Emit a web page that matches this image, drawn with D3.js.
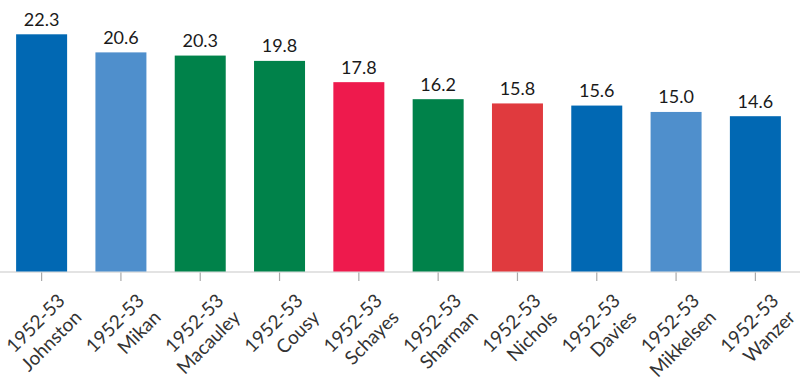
<!DOCTYPE html>
<html>
<head>
<meta charset="utf-8">
<script src="https://cdn.jsdelivr.net/npm/d3@7"></script>
<style>
  html, body { margin: 0; padding: 0; background: #fff; }
  svg { display: block; font-family: Lato, "Open Sans", sans-serif; }
</style>
</head>
<body>
<svg id="chart" width="800" height="380"></svg>
<script>
const seasons = ["1952-53","1952-53","1952-53","1952-53","1952-53","1952-53","1952-53","1952-53","1952-53","1952-53"];
const players = ["Johnston","Mikan","Macauley","Cousy","Schayes","Sharman","Nichols","Davies","Mikkelsen","Wanzer"];
const values = [22.3, 20.6, 20.3, 19.8, 17.8, 16.2, 15.8, 15.6, 15.0, 14.6];
const teams = ["Warriors","Lakers","Celtics","Celtics","Nationals","Celtics","Hawks","Royals","Lakers","Royals"];
const teamNames = ["Warriors","Lakers","Celtics","Nationals","Hawks","Royals"];
const teamColors = ["#0168b3","#4f8fcc","#00824a","#ee1a4d","#e03a3e","#0168b3"];

const data = players.map((p, i) => ({ id: i, season: seasons[i], player: p, value: values[i], team: teams[i] }));

const svg = d3.select("#chart");
const axisY = 271.5;

const x = d3.scaleBand()
  .domain(data.map(d => d.id))
  .range([2, 795])
  .paddingInner(0.357)
  .paddingOuter(0.178);

const y = d3.scaleLinear()
  .domain([0, 22.3])
  .range([axisY, 34.3]);

const color = d3.scaleOrdinal().domain(teamNames).range(teamColors);

// axis baseline
svg.append("line")
  .attr("x1", 0).attr("x2", 800)
  .attr("y1", axisY + 0.5).attr("y2", axisY + 0.5)
  .attr("stroke", "#c8c8c8").attr("stroke-width", 1.2);

// bars
svg.append("g").selectAll("rect")
  .data(data).join("rect")
  .attr("x", d => x(d.id))
  .attr("width", x.bandwidth())
  .attr("y", d => y(d.value))
  .attr("height", d => y(0) - y(d.value))
  .attr("fill", d => color(d.team));

// value labels
svg.append("g").selectAll("text")
  .data(data).join("text")
  .attr("x", d => x(d.id) + x.bandwidth() / 2)
  .attr("y", d => y(d.value) - 8.5)
  .attr("text-anchor", "middle")
  .attr("font-size", 18)
  .attr("fill", "#1a1a1a")
  .text(d => d.value.toFixed(1));

// ticks
const ticks = svg.append("g").selectAll("g")
  .data(data).join("g")
  .attr("transform", d => `translate(${x(d.id) + x.bandwidth() / 2},0)`);

ticks.append("line")
  .attr("y1", axisY + 1).attr("y2", axisY + 9.5)
  .attr("stroke", "#aaaaaa").attr("stroke-width", 1.2);

const lbl = ticks.append("text")
  .attr("transform", "translate(24.5,302) rotate(-45)")
  .attr("text-anchor", "end")
  .attr("font-size", 19)
  .attr("fill", "#333");
lbl.append("tspan").attr("x", 0).attr("dy", 0).text(d => d.season);
lbl.append("tspan").attr("x", 0).attr("dy", 23.5).text(d => d.player);
</script>
</body>
</html>
